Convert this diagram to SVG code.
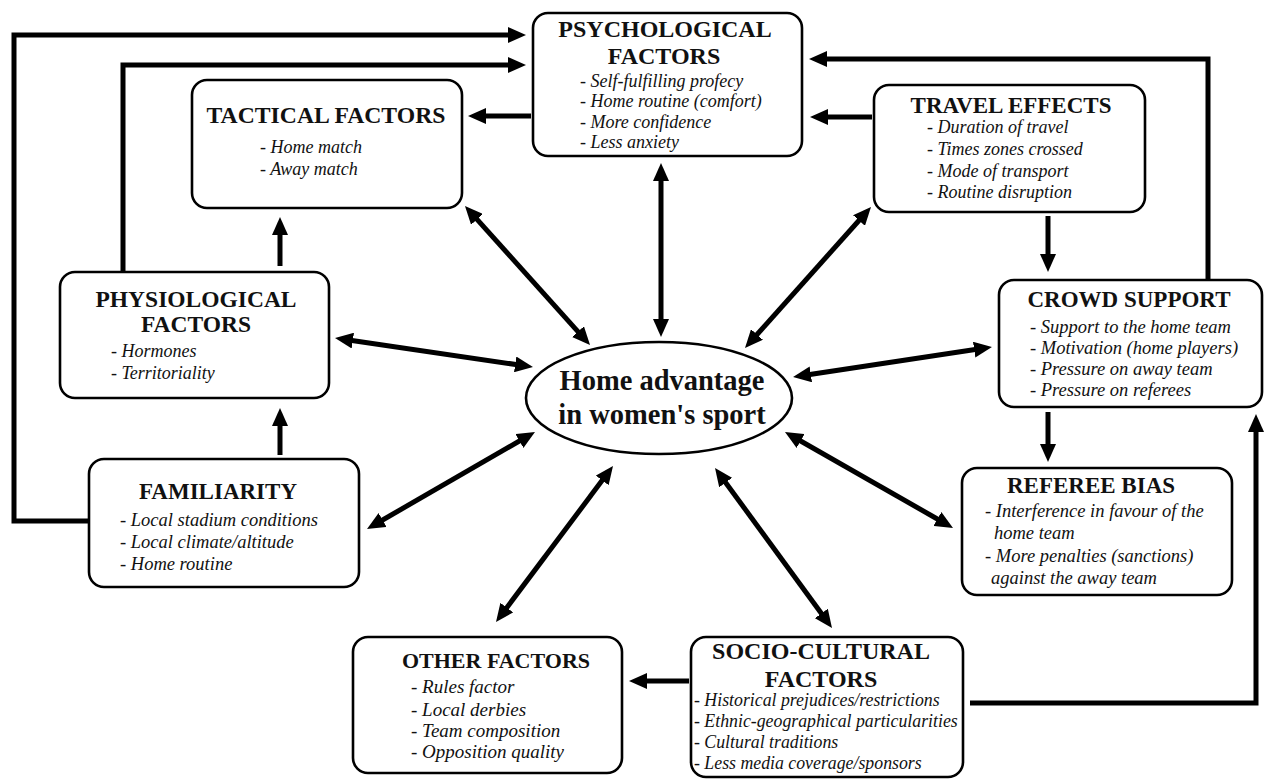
<svg xmlns="http://www.w3.org/2000/svg" width="1264" height="780" viewBox="0 0 1264 780">
<style>
.box{fill:#fff;stroke:#000;stroke-width:2.6}
.t{font-family:"Liberation Serif","Times New Roman",serif;font-weight:bold;fill:#111;text-anchor:middle}
.i{font-family:"Liberation Serif","Times New Roman",serif;font-style:italic;fill:#111}
.c{fill:none;stroke:#000;stroke-width:5}
</style>
<defs>
<marker id="ah" viewBox="0 0 18 16" markerWidth="18" markerHeight="16" refX="6" refY="8" orient="auto-start-reverse" markerUnits="userSpaceOnUse"><path d="M0,0 L18,8 L0,16 z" fill="#000"/></marker>
</defs>
<rect width="1264" height="780" fill="#fff"/>
<g id="connectors">
<polyline class="c" points="89,521 14,521 14,35 514,35" marker-end="url(#ah)"/>
<polyline class="c" points="123,272 123,65 514,65" marker-end="url(#ah)"/>
<line class="c" x1="531" y1="116" x2="480" y2="116" marker-end="url(#ah)"/>
<line class="c" x1="872" y1="117" x2="822" y2="117" marker-end="url(#ah)"/>
<polyline class="c" points="1208,281 1208,59 821,59" marker-end="url(#ah)"/>
<line class="c" x1="1048" y1="216" x2="1048" y2="260" marker-end="url(#ah)"/>
<line class="c" x1="1048" y1="412" x2="1048" y2="450" marker-end="url(#ah)"/>
<polyline class="c" points="970,703 1256,703 1256,426" marker-end="url(#ah)"/>
<line class="c" x1="689" y1="681" x2="641" y2="681" marker-end="url(#ah)"/>
<line class="c" x1="280" y1="266" x2="280" y2="229" marker-end="url(#ah)"/>
<line class="c" x1="280" y1="455" x2="280" y2="420" marker-end="url(#ah)"/>
<line class="c" x1="473" y1="214.9" x2="582" y2="336.1" marker-start="url(#ah)" marker-end="url(#ah)"/>
<line class="c" x1="661" y1="175" x2="661" y2="325" marker-start="url(#ah)" marker-end="url(#ah)"/>
<line class="c" x1="863" y1="216" x2="753" y2="339" marker-start="url(#ah)" marker-end="url(#ah)"/>
<line class="c" x1="346.9" y1="339.7" x2="521.1" y2="365.3" marker-start="url(#ah)" marker-end="url(#ah)"/>
<line class="c" x1="980.1" y1="348.8" x2="804.9" y2="375.2" marker-start="url(#ah)" marker-end="url(#ah)"/>
<line class="c" x1="377.4" y1="523" x2="524.6" y2="438" marker-start="url(#ah)" marker-end="url(#ah)"/>
<line class="c" x1="942.6" y1="522" x2="795.4" y2="438" marker-start="url(#ah)" marker-end="url(#ah)"/>
<line class="c" x1="503.2" y1="612.4" x2="605.8" y2="475.6" marker-start="url(#ah)" marker-end="url(#ah)"/>
<line class="c" x1="824.9" y1="618.3" x2="722.1" y2="477.7" marker-start="url(#ah)" marker-end="url(#ah)"/>
</g>
<g id="psychological">
<rect class="box" x="533" y="13" width="269" height="143" rx="15"/>
<text class="t" x="665" y="37" font-size="24">PSYCHOLOGICAL</text>
<text class="t" x="664" y="64" font-size="24">FACTORS</text>
<text class="i" font-size="18"><tspan x="580" y="87">- Self-fulfilling profecy</tspan><tspan x="580" y="107">- Home routine (comfort)</tspan><tspan x="580" y="128">- More confidence</tspan><tspan x="580" y="148">- Less anxiety</tspan></text>
</g>
<g id="tactical">
<rect class="box" x="192" y="80" width="270" height="128" rx="15"/>
<text class="t" x="326" y="123" font-size="23.7">TACTICAL FACTORS</text>
<text class="i" font-size="18"><tspan x="260" y="153">- Home match</tspan><tspan x="260" y="175">- Away match</tspan></text>
</g>
<g id="travel">
<rect class="box" x="874" y="85" width="271" height="127" rx="15"/>
<text class="t" x="1011" y="113" font-size="23">TRAVEL EFFECTS</text>
<text class="i" font-size="18"><tspan x="927" y="133">- Duration of travel</tspan><tspan x="927" y="155">- Times zones crossed</tspan><tspan x="927" y="177">- Mode of transport</tspan><tspan x="927" y="198">- Routine disruption</tspan></text>
</g>
<g id="physiological">
<rect class="box" x="60" y="272" width="269" height="126" rx="15"/>
<text class="t" x="196" y="307" font-size="23.5">PHYSIOLOGICAL</text>
<text class="t" x="196" y="332" font-size="23.5">FACTORS</text>
<text class="i" font-size="18"><tspan x="111" y="357">- Hormones</tspan><tspan x="111" y="379">- Territoriality</tspan></text>
</g>
<g id="crowd">
<rect class="box" x="999" y="280" width="263" height="127" rx="15"/>
<text class="t" x="1129" y="307" font-size="23">CROWD SUPPORT</text>
<text class="i" font-size="18.5"><tspan x="1030" y="333">- Support to the home team</tspan><tspan x="1030" y="354">- Motivation (home players)</tspan><tspan x="1030" y="375">- Pressure on away team</tspan><tspan x="1030" y="396">- Pressure on referees</tspan></text>
</g>
<g id="center">
<ellipse cx="659" cy="398" rx="133" ry="56" fill="#fff" stroke="#000" stroke-width="2.6"/>
<text class="t" x="662" y="390" font-size="28.5">Home advantage</text>
<text class="t" x="662" y="424" font-size="28.5">in women's sport</text>
</g>
<g id="familiarity">
<rect class="box" x="89" y="459" width="270" height="128" rx="15"/>
<text class="t" x="218" y="499" font-size="23">FAMILIARITY</text>
<text class="i" font-size="18.5"><tspan x="120" y="526">- Local stadium conditions</tspan><tspan x="120" y="548">- Local climate/altitude</tspan><tspan x="120" y="570">- Home routine</tspan></text>
</g>
<g id="referee">
<rect class="box" x="962" y="468" width="270" height="127" rx="15"/>
<text class="t" x="1091" y="493" font-size="23">REFEREE BIAS</text>
<text class="i" font-size="18.5"><tspan x="985" y="517">- Interference in favour of the</tspan><tspan x="994" y="539">home team</tspan><tspan x="985" y="562">- More penalties (sanctions)</tspan><tspan x="991" y="584">against the away team</tspan></text>
</g>
<g id="other">
<rect class="box" x="353" y="637" width="269" height="136" rx="15"/>
<text class="t" x="496" y="668" font-size="22">OTHER FACTORS</text>
<text class="i" font-size="19"><tspan x="411" y="693">- Rules factor</tspan><tspan x="411" y="716">- Local derbies</tspan><tspan x="411" y="737">- Team composition</tspan><tspan x="411" y="758">- Opposition quality</tspan></text>
</g>
<g id="sociocultural">
<rect class="box" x="691" y="637" width="272" height="140" rx="15"/>
<text class="t" x="821" y="659" font-size="24">SOCIO-CULTURAL</text>
<text class="t" x="821" y="687" font-size="24">FACTORS</text>
<text class="i" font-size="17.8"><tspan x="694" y="706">- Historical prejudices/restrictions</tspan><tspan x="694" y="727">- Ethnic-geographical particularities</tspan><tspan x="694" y="748">- Cultural traditions</tspan><tspan x="694" y="769">- Less media coverage/sponsors</tspan></text>
</g>
</svg>
